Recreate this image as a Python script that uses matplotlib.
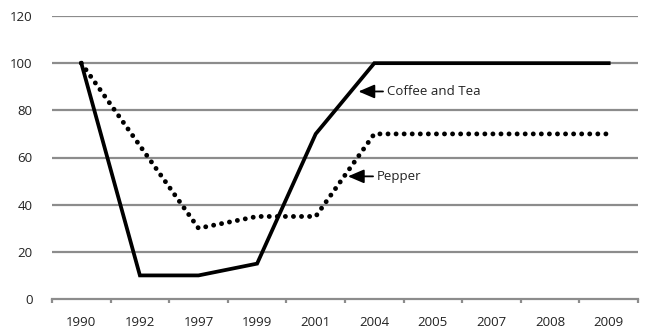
import matplotlib
matplotlib.use('Agg')
import matplotlib.pyplot as plt
import numpy as np

plt.rcParams['font.family'] = ['Open Sans', 'DejaVu Sans']

# Data
years = ['1990', '1992', '1997', '1999', '2001', '2004', '2005', '2007', '2008', '2009']
coffee_tea = [100, 10, 10, 15, 70, 100, 100, 100, 100, 100]
pepper = [100, 65, 30, 35, 35, 70, 70, 70, 70, 70]

fig = plt.figure(figsize=(6.45, 3.35), dpi=100)
ax = fig.add_axes([52 / 645, 36 / 335, 586 / 645, 283 / 335])

x = np.arange(len(years))
ax.set_xlim(-0.5, len(years) - 0.5)
ax.set_ylim(0, 120)

# Gridlines
for v in range(20, 121, 20):
    ax.axhline(v, color='#8c8c8c', lw=1.6, zorder=1)

# Series
ax.plot(x, coffee_tea, color='black', lw=2.7, solid_joinstyle='miter', zorder=3)
ax.plot(x, pepper, color='black', lw=3.5, linestyle=(0, (0.01, 1.65)),
        dash_capstyle='round', zorder=3)

# Axes styling
for s in ['top', 'right', 'left']:
    ax.spines[s].set_visible(False)
ax.spines['bottom'].set_color('#8c8c8c')
ax.spines['bottom'].set_linewidth(1.6)

ax.set_yticks(range(0, 121, 20))
ax.tick_params(axis='y', length=0, pad=14, labelsize=9.5, colors='#222222')
ax.set_xticks(x)
ax.set_xticklabels(years)
ax.set_xticks(np.arange(-0.5, len(years)), minor=True)
ax.tick_params(axis='x', which='major', length=0, pad=12, labelsize=9.5, colors='#222222')
ax.tick_params(axis='x', which='minor', length=3, width=1.6, color='#8c8c8c')

# Annotations
arrow = dict(arrowstyle='-|>,head_length=0.7,head_width=0.3', color='black',
             lw=1.3, mutation_scale=14, shrinkA=1, shrinkB=0)
ax.annotate('Coffee and Tea', xy=(4.73, 88), xytext=(5.22, 88), fontsize=9.5,
            color='#222222', va='center', ha='left', arrowprops=arrow)
ax.annotate('Pepper', xy=(4.55, 52), xytext=(5.05, 52), fontsize=9.5,
            color='#222222', va='center', ha='left', arrowprops=arrow)

fig.savefig('out.png', dpi=100)
